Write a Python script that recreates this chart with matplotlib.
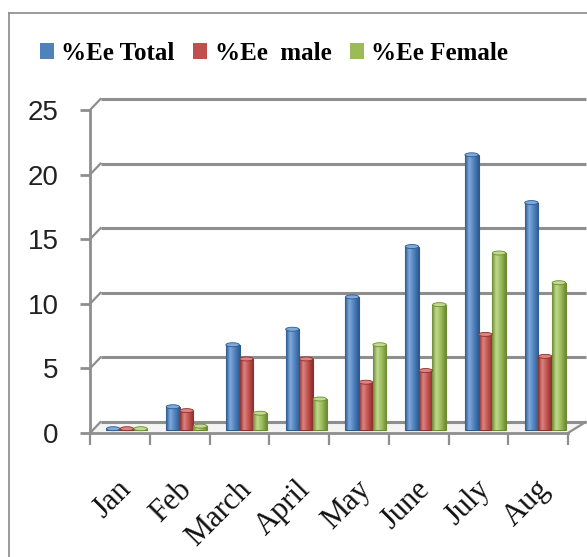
import matplotlib
matplotlib.use("Agg")
import matplotlib.pyplot as plt
import numpy as np
from matplotlib.patches import Patch, Ellipse
from matplotlib.lines import Line2D
from matplotlib.colors import LinearSegmentedColormap
from matplotlib.transforms import ScaledTranslation

months = ["Jan", "Feb", "March", "April", "May", "June", "July", "Aug"]
ee_total = [0.1, 1.8, 6.6, 7.8, 10.3, 14.2, 21.3, 17.6]
ee_male = [0.1, 1.5, 5.5, 5.5, 3.7, 4.6, 7.4, 5.7]
ee_female = [0.1, 0.3, 1.3, 2.4, 6.6, 9.7, 13.7, 11.4]
series_names = ["%Ee Total", "%Ee  male", "%Ee Female"]
y_ticks = [0, 5, 10, 15, 20, 25]

# (dark edge, highlight, base) for each series
shades = [("#2c5a8f", "#7fa9db", "#4f81bd"),
          ("#8c2e2b", "#dc8481", "#c0504d"),
          ("#6c8a32", "#c0da8e", "#9bbb59")]

W, H = 587, 557
fig = plt.figure(figsize=(W / 100, H / 100), dpi=100)
fig.patch.set_facecolor("white")

# front plane of the plot: x boundaries 90..568 px, y 0..25 -> 433..110 px
ax = fig.add_axes([90 / W, (H - 433) / H, 478 / W, (433 - 110) / H])
ax.set_xlim(-0.5, 7.5)
ax.set_ylim(0, 25)
ax.set_facecolor("none")

px_x = (478 / 8)      # pixels per category
px_y = (323 / 25)     # pixels per unit
dx, dy = 10.5 / px_x, 11 / px_y       # depth of the back wall
bx, by = 7 / px_x, 3 / px_y           # bars sit half way in

grid_c = "#8e8e8e"
# back wall gridlines and the slanted side-wall pieces
for v in y_ticks:
    ax.plot([-0.5 + dx, 7.5 + dx + 0.12], [v + dy, v + dy], color=grid_c, lw=2.2, zorder=1,
            solid_capstyle="butt", clip_on=False)
    ax.plot([-0.5, -0.5 + dx], [v, v + dy], color=grid_c, lw=1.6, zorder=1, clip_on=False)
# floor
ax.plot([7.5, 7.5 + dx + 0.12], [0, dy], color=grid_c, lw=1.6, zorder=1, clip_on=False)
ax.fill([-0.5, 7.5, 7.5 + dx + 0.12, -0.5 + dx], [0, 0, dy, dy], color="#f4f4f4",
        zorder=0.5, clip_on=False)

x = np.arange(len(months))
bw = 0.23
for i, vals in enumerate([ee_total, ee_male, ee_female]):
    dark, light, base = shades[i]
    cmap = LinearSegmentedColormap.from_list(
        "cyl%d" % i, [(0, dark), (0.3, light), (0.65, base), (1, dark)])
    pos = x + bx + (i - 1) * bw
    bars = ax.bar(pos, vals, bw, bottom=by, color=base, edgecolor=dark, lw=0.8, zorder=3)
    grad = np.linspace(0, 1, 64).reshape(1, -1)
    for b in bars:
        x0, y0 = b.get_x(), b.get_y()
        w, h = b.get_width(), b.get_height()
        im = ax.imshow(grad, cmap=cmap, extent=[x0, x0 + w, y0, y0 + h],
                       aspect="auto", zorder=3.1, interpolation="bilinear")
        im.set_clip_path(b)
        ax.add_patch(Ellipse((x0 + w / 2, y0 + h), w * 0.98, 4 / px_y,
                             facecolor=light, edgecolor=dark, lw=0.6, zorder=3.2))

ax.set_xlim(-0.5, 7.5)
ax.set_ylim(0, 25)

for s in ["top", "right"]:
    ax.spines[s].set_visible(False)
for s in ["left", "bottom"]:
    ax.spines[s].set_color(grid_c)
    ax.spines[s].set_linewidth(2)
    ax.spines[s].set_zorder(2)

ax.set_yticks(y_ticks)
ax.set_yticklabels([str(t) for t in y_ticks], family="Liberation Sans",
                   fontsize=20, color="#222222")
ax.tick_params(axis="y", length=7.5, width=2, color=grid_c, pad=15)

ax.set_xticks(np.arange(-0.5, 8, 1))
ax.set_xticklabels([])
ax.tick_params(axis="x", which="major", length=8.5, width=1.6, color=grid_c)
ax.set_xticks(x, minor=True)
ax.set_xticklabels(months, minor=True, rotation=45, ha="right", rotation_mode="anchor",
                   family="Liberation Serif", fontsize=22, color="#111111")
ax.tick_params(axis="x", which="minor", length=0, pad=30)
shift = ScaledTranslation(-0.03, 0, fig.dpi_scale_trans)
for lab in ax.get_xticklabels(minor=True):
    lab.set_transform(lab.get_transform() + shift)

handles = [Patch(facecolor=s[2], edgecolor="none") for s in shades]
fig.legend(handles, series_names, loc="center left", bbox_to_anchor=(40 / W, 1 - 53 / H),
           ncol=3, frameon=False, borderpad=0, borderaxespad=0,
           handlelength=0.55, handleheight=0.6, handletextpad=0.3, columnspacing=0.75,
           prop={"family": "Liberation Serif", "weight": "bold", "size": 18})

# outer chart border
fig.add_artist(Line2D([9 / W, 9 / W], [0, 1 - 13 / H], transform=fig.transFigure,
                      color="#8a8a8a", lw=1.2))
fig.add_artist(Line2D([9 / W, 1], [1 - 13 / H, 1 - 13 / H], transform=fig.transFigure,
                      color="#8a8a8a", lw=1.2))

fig.savefig("out.png", dpi=100, facecolor="white")
